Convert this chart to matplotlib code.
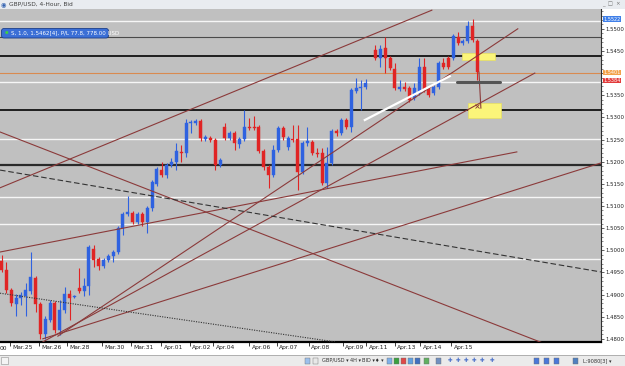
import numpy as np
import matplotlib.pyplot as plt
from matplotlib.patches import Rectangle, FancyBboxPatch

# GBP/USD 4-hour bars (bar 76 is an empty slot)
bar_open = [1.4976, 1.4955, 1.4910, 1.4879, 1.4892, 1.4897, 1.4908, 1.4937, 1.4879, 1.4811,
            1.4842, 1.4881, 1.4820, 1.4865, 1.4901, 1.4894, 1.4915, 1.4908, 1.4919, 1.5003,
            1.4980, 1.4964, 1.4978, 1.4987, 1.4996, 1.5050, 1.5082, 1.5084, 1.5064, 1.5082,
            1.5064, 1.5095, 1.5150, 1.5181, 1.5170, 1.5192, 1.5199, 1.5222, 1.5220, 1.5287,
            1.5287, 1.5292, 1.5251, 1.5253, 1.5249, 1.5192, 1.5278, 1.5253, 1.5265, 1.5240,
            1.5251, 1.5278, 1.5278, 1.5278, 1.5224, 1.5188, 1.5170, 1.5226, 1.5276, 1.5233,
            1.5251, 1.5251, 1.5177, 1.5242, 1.5244, 1.5220, 1.5220, 1.5152, 1.5197, 1.5269,
            1.5265, 1.5294, 1.5278, 1.5360, 1.5366, 1.5369, np.nan, 1.5452, 1.5434, 1.5457,
            1.5434, 1.5409, 1.5364, 1.5369, 1.5366, 1.5344, 1.5355, 1.5414, 1.5366, 1.5355,
            1.5369, 1.5423, 1.5434, 1.5434, 1.5481, 1.5468, 1.5472, 1.5506, 1.5472]
bar_high = [1.4989, 1.4973, 1.4915, 1.4901, 1.4906, 1.4926, 1.4996, 1.4942, 1.4883, 1.4852,
            1.4888, 1.4885, 1.4888, 1.4917, 1.4910, 1.4899, 1.4960, 1.4937, 1.5012, 1.5012,
            1.4985, 1.4982, 1.4991, 1.5001, 1.5055, 1.5086, 1.5122, 1.5089, 1.5086, 1.5086,
            1.5100, 1.5159, 1.5188, 1.5199, 1.5197, 1.5208, 1.5242, 1.5238, 1.5296, 1.5294,
            1.5296, 1.5296, 1.5260, 1.5258, 1.5253, 1.5208, 1.5287, 1.5269, 1.5269, 1.5256,
            1.5317, 1.5299, 1.5303, 1.5283, 1.5229, 1.5192, 1.5238, 1.5280, 1.5280, 1.5258,
            1.5283, 1.5283, 1.5247, 1.5278, 1.5249, 1.5231, 1.5231, 1.5233, 1.5274, 1.5274,
            1.5299, 1.5299, 1.5366, 1.5389, 1.5384, 1.5387, np.nan, 1.5463, 1.5463, 1.5481,
            1.5439, 1.5423, 1.5384, 1.5380, 1.5371, 1.5378, 1.5434, 1.5434, 1.5371, 1.5373,
            1.5427, 1.5434, 1.5439, 1.5488, 1.5493, 1.5477, 1.5518, 1.5522, 1.5477]
bar_low = [1.4951, 1.4903, 1.4874, 1.4852, 1.4876, 1.4852, 1.4901, 1.4861, 1.4800, 1.4800,
           1.4838, 1.4813, 1.4809, 1.4858, 1.4842, 1.4892, 1.4903, 1.4897, 1.4899, 1.4962,
           1.4955, 1.4960, 1.4973, 1.4973, 1.4991, 1.5034, 1.5077, 1.5059, 1.5059, 1.5055,
           1.5039, 1.5089, 1.5145, 1.5165, 1.5163, 1.5188, 1.5181, 1.5199, 1.5210, 1.5265,
           1.5283, 1.5247, 1.5247, 1.5244, 1.5181, 1.5188, 1.5249, 1.5249, 1.5226, 1.5231,
           1.5247, 1.5271, 1.5271, 1.5220, 1.5181, 1.5141, 1.5165, 1.5222, 1.5249, 1.5226,
           1.5244, 1.5136, 1.5172, 1.5235, 1.5215, 1.5210, 1.5147, 1.5141, 1.5192, 1.5258,
           1.5260, 1.5274, 1.5267, 1.5355, 1.5317, 1.5364, np.nan, 1.5430, 1.5414, 1.5400,
           1.5407, 1.5362, 1.5360, 1.5360, 1.5335, 1.5339, 1.5350, 1.5357, 1.5346, 1.5350,
           1.5364, 1.5409, 1.5409, 1.5430, 1.5463, 1.5463, 1.5468, 1.5470, 1.5384]
bar_close = [1.4955, 1.4910, 1.4881, 1.4892, 1.4899, 1.4910, 1.4940, 1.4879, 1.4811, 1.4845,
             1.4881, 1.4820, 1.4865, 1.4901, 1.4892, 1.4897, 1.4908, 1.4919, 1.5007, 1.4978,
             1.4964, 1.4978, 1.4987, 1.4996, 1.5050, 1.5082, 1.5086, 1.5064, 1.5082, 1.5064,
             1.5095, 1.5154, 1.5183, 1.5170, 1.5192, 1.5199, 1.5224, 1.5220, 1.5287, 1.5289,
             1.5292, 1.5253, 1.5256, 1.5249, 1.5192, 1.5204, 1.5253, 1.5265, 1.5242, 1.5251,
             1.5278, 1.5276, 1.5276, 1.5224, 1.5188, 1.5170, 1.5226, 1.5276, 1.5256, 1.5253,
             1.5249, 1.5177, 1.5242, 1.5247, 1.5220, 1.5217, 1.5152, 1.5197, 1.5269, 1.5265,
             1.5294, 1.5278, 1.5362, 1.5366, 1.5369, 1.5378, np.nan, 1.5434, 1.5454, 1.5434,
             1.5411, 1.5366, 1.5369, 1.5364, 1.5339, 1.5366, 1.5414, 1.5362, 1.5350, 1.5369,
             1.5423, 1.5414, 1.5414, 1.5484, 1.5468, 1.5472, 1.5506, 1.5475, 1.5402]

date_labels = ["Mar.25", "Mar.26", "Mar.28", "Mar.30", "Mar.31", "Apr.01", "Apr.02", "Apr.04",
               "Apr.06", "Apr.07", "Apr.08", "Apr.09", "Apr.11", "Apr.13", "Apr.14", "Apr.15"]
date_bars = [1.8, 7.7, 13.5, 20.7, 26.7, 32.9, 38.8, 43.6, 51.0, 56.7, 63.3, 70.3, 75.1, 81.0, 86.2, 92.6]

# horizontal levels
white_levels = [1.5518, 1.5380, 1.5252, 1.5121, 1.5060, 1.4981]
black_levels = [1.5439, 1.5317]
heavy_level = 1.5193
order_level = 1.5482
orange_level = 1.5401
high_tag = 1.5522
bid_tag = 1.5384

# trend lines: (bar, price) -> (bar, price)
brown_lines = [((-0.3, 1.5141), (88.6, 1.5542)),
               ((-0.3, 1.4996), (106.1, 1.5222)),
               ((8.5, 1.4793), (109.8, 1.5400)),
               ((11.6, 1.4806), (106.3, 1.5500)),
               ((8.5, 1.4800), (123.4, 1.5197)),
               ((-0.3, 1.5267), (112.5, 1.4786)),
               ((98.3, 1.5402), (98.7, 1.5321))]
dash_line = ((-0.3, 1.5181), (123.4, 1.4951))
dot_line = ((-0.3, 1.4903), (68.7, 1.4793))
white_trend = ((74.8, 1.5294), (92.3, 1.5393))
gray_bar = ((93.8, 1.5380), (102.6, 1.5380))
yellow_boxes = [(94.8, 1.5429, 6.8, 0.0016), (96.0, 1.5299, 6.8, 0.0033)]

price_ticks = np.arange(1.4800, 1.55001, 0.0050)

W, H = 625.0, 366.0
fig = plt.figure(figsize=(W / 100, H / 100), dpi=100)
fig.patch.set_facecolor('white')


def pt(x, y):
    return (x / 100.0, (H - y) / 100.0)


def box(x0, y0, x1, y1, **kw):
    r = Rectangle(pt(x0, y1), (x1 - x0) / 100.0, (y1 - y0) / 100.0,
                  transform=fig.dpi_scale_trans, **kw)
    fig.add_artist(r)
    return r


# window chrome
box(0, 0, 625, 9, facecolor='#e9ecf0', edgecolor='none')
box(0, 355, 625, 366, facecolor='#ebebeb', edgecolor='none')
box(0, 355, 625, 355.6, facecolor='#b0b0b0', edgecolor='none')
fig.text(*pt(1, 4.5), '\u25c9', transform=fig.dpi_scale_trans, fontsize=4.5,
         color='#3060b0', va='center')
fig.text(*pt(9, 4.5), 'GBP/USD, 4-Hour, Bid', transform=fig.dpi_scale_trans,
         fontsize=4.2, color='#404040', va='center')
fig.text(*pt(602, 4.5), '_  \u25a1  \u00d7', transform=fig.dpi_scale_trans,
         fontsize=3.8, color='#707070', va='center')

ax = fig.add_axes([0, (H - 342) / H, 601 / W, (342 - 9) / H])
ax.set_facecolor('#c0c0c0')
idx = np.arange(len(bar_open))
o = np.array(bar_open); c = np.array(bar_close)
hi = np.array(bar_high); lo = np.array(bar_low)
up = c >= o
cols = np.where(up, '#2f62e0', '#e02424')

for p in white_levels:
    ax.axhline(p, color='#f6f6f6', lw=1.0, zorder=1)
for p in black_levels:
    ax.axhline(p, color='#111111', lw=1.3, zorder=1)
ax.axhline(heavy_level, color='#2a2a2a', lw=1.6, zorder=1)
ax.axhline(order_level, color='#4a4a4a', lw=0.8, zorder=1)
ax.axhline(orange_level, color='#d98a50', lw=0.8, zorder=1)

for (x0, y0, w, h) in yellow_boxes:
    ax.add_patch(Rectangle((x0, y0), w, h, facecolor='#fbf57a', edgecolor='#e8e060',
                           lw=0.5, zorder=2))

ok = ~np.isnan(o)
ax.vlines(idx[ok], lo[ok], hi[ok], colors=cols[ok], lw=0.8, zorder=3)
bottoms = np.minimum(o, c)
heights = np.maximum(np.abs(c - o), 0.00012)
ax.bar(idx[ok], heights[ok], bottom=bottoms[ok], width=0.64, color=cols[ok],
       edgecolor=cols[ok], lw=0.3, zorder=3)

for (a, b) in brown_lines:
    ax.plot([a[0], b[0]], [a[1], b[1]], color='#8b3a3a', lw=0.8, zorder=4)
ax.plot([dash_line[0][0], dash_line[1][0]], [dash_line[0][1], dash_line[1][1]],
        color='#333333', lw=0.8, dashes=(5, 2.5), zorder=4)
ax.plot([dot_line[0][0], dot_line[1][0]], [dot_line[0][1], dot_line[1][1]],
        color='#333333', lw=0.8, dashes=(1, 1.2), zorder=4)
ax.plot([white_trend[0][0], white_trend[1][0]], [white_trend[0][1], white_trend[1][1]],
        color='white', lw=1.6, zorder=4)
ax.plot([gray_bar[0][0], gray_bar[1][0]], [gray_bar[0][1], gray_bar[1][1]],
        color='#555555', lw=2.2, solid_capstyle='round', zorder=4)
ax.plot([98.0], [1.5326], marker='x', ms=3, color='#8b3a3a', mew=0.6, zorder=4)

ax.set_xlim(-0.31, 123.43)
ax.set_ylim(1.47928, 1.55447)

for s in ['top', 'left']:
    ax.spines[s].set_visible(False)
ax.spines['bottom'].set_linewidth(1.6)
ax.spines['right'].set_color('#303030')
ax.spines['right'].set_linewidth(0.8)

# the 1.5400 label sits under the orange tag, so leave it blank
ax.yaxis.tick_right()
ax.set_yticks(price_ticks)
ax.set_yticklabels(["" if abs(v - 1.54) < 1e-6 else f"{v:.4f}" for v in price_ticks])
ax.set_yticks(np.arange(1.4800, 1.5540, 0.0010), minor=True)
ax.tick_params(axis='y', which='major', length=2.5, width=0.5, pad=0.8,
               labelsize=3.9, colors='#202020')
ax.tick_params(axis='y', which='minor', length=1.3, width=0.4, colors='#303030')

ax.set_xticks(date_bars)
ax.set_xticklabels([])
ax.tick_params(axis='x', which='major', length=3, width=0.6, direction='out', colors='#202020')
for pos, lab in zip(date_bars, date_labels):
    ax.text(pos + 0.5, -0.018, lab, transform=ax.get_xaxis_transform(),
            fontsize=4.3, color='#202020', ha='left', va='center', clip_on=False)
fig.text(*pt(0, 348), '00', transform=fig.dpi_scale_trans, fontsize=4.3,
         color='#202020', va='center')

# price tags on the scale
for price, fc in [(high_tag, '#3f7fe8'), (orange_level, '#f2a24a'), (bid_tag, '#e23a3a')]:
    ax.text(1.004, price, f"{price:.4f}", transform=ax.get_yaxis_transform(),
            fontsize=3.6, color='white', ha='left', va='center', clip_on=False,
            bbox=dict(boxstyle='square,pad=0.02', facecolor=fc, edgecolor='none'))

# open order label
lbl = FancyBboxPatch(pt(1.5, 38), 107 / 100.0, 9.5 / 100.0,
                     boxstyle='round,pad=0,rounding_size=0.025',
                     transform=fig.dpi_scale_trans, facecolor='#3b6fd6',
                     edgecolor='#1d3f8a', lw=0.6, zorder=10)
fig.add_artist(lbl)
fig.text(*pt(5, 33), '\u25cf', transform=fig.dpi_scale_trans, fontsize=3,
         color='#40d040', va='center', zorder=11)
fig.text(*pt(11, 33), 'S, 1.0, 1.5462[4], P/L 77.8, 778.00 USD', transform=fig.dpi_scale_trans,
         fontsize=4.0, color='white', va='center', zorder=11)

# bottom toolbar
box(1, 357, 8, 364, facecolor='#f4f4f4', edgecolor='#909090', lw=0.4)
for x0, fc in [(305, '#9cc0ec'), (313, '#e8e8e8'), (387, '#7fb0e8'), (394, '#3aa040'),
               (401, '#e04848'), (408, '#60a0e0'), (415, '#4070c0'), (424, '#60b060'),
               (436, '#7090c0'), (534, '#4a78d8'), (544, '#4a78d8'), (554, '#4a78d8'),
               (573, '#5080c0')]:
    box(x0, 357.5, x0 + 5, 363.5, facecolor=fc, edgecolor='#707070', lw=0.3)
for x0, s in [(322, 'GBP/USD \u25be'), (350, '4H \u25be'), (362, 'BID \u25be'),
              (375, '\u2666 \u25be'), (583, 'L:9080[3] \u25be')]:
    fig.text(*pt(x0, 360.5), s, transform=fig.dpi_scale_trans, fontsize=3.6,
             color='#303030', va='center')
for x0 in [448, 456, 464, 472, 480, 490]:
    fig.text(*pt(x0, 360.5), '\u271a', transform=fig.dpi_scale_trans, fontsize=4,
             color='#4a70c8', va='center')

fig.savefig('out.png', dpi=100)
